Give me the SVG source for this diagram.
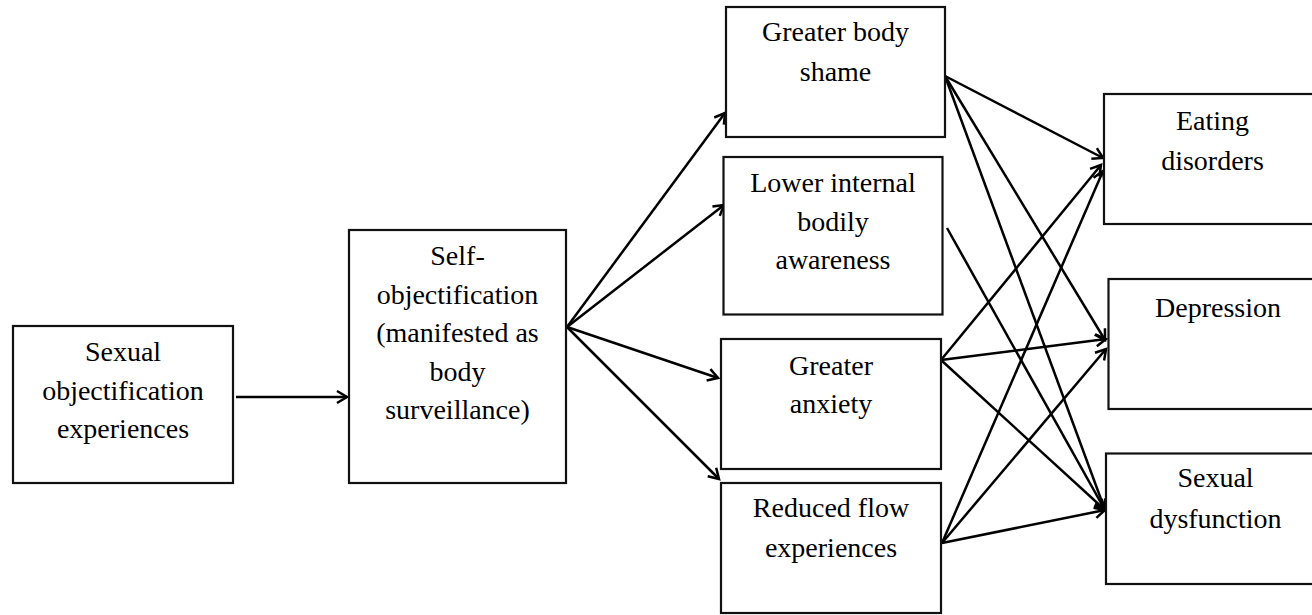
<svg xmlns="http://www.w3.org/2000/svg" width="1312" height="615" viewBox="0 0 1312 615">
<defs>
<style>
.box{fill:#fff;stroke:#111;stroke-width:2.2}
.lbl{font-family:"Liberation Serif","Times New Roman",serif;font-size:28px;fill:#000;text-anchor:middle}
.con{stroke:#000;stroke-width:2.5;fill:none;marker-end:url(#ah)}
</style>
<marker id="ah" markerUnits="userSpaceOnUse" markerWidth="16" markerHeight="16" viewBox="-13 -8 16 16" refX="0" refY="0" orient="auto">
<path d="M-10,-6 L0,0 L-10,6" fill="none" stroke="#000" stroke-width="2.5" stroke-linejoin="miter"/>
</marker>
</defs>
<rect width="1312" height="615" fill="#fff"/>
<g id="connectors">
<line class="con" x1="236" y1="397" x2="347" y2="397"/>
<line class="con" x1="567" y1="327" x2="725" y2="113"/>
<line class="con" x1="567" y1="327" x2="724" y2="205"/>
<line class="con" x1="567" y1="327" x2="718" y2="378"/>
<line class="con" x1="567" y1="327" x2="719" y2="479"/>
<line class="con" x1="945" y1="76" x2="1103" y2="158"/>
<line class="con" x1="945" y1="76" x2="1105" y2="340"/>
<line class="con" x1="945" y1="76" x2="1105" y2="510"/>
<line class="con" x1="947" y1="228" x2="1105" y2="510"/>
<line class="con" x1="941" y1="360" x2="1101" y2="165"/>
<line class="con" x1="941" y1="360" x2="1106" y2="339"/>
<line class="con" x1="941" y1="360" x2="1105" y2="510"/>
<line class="con" x1="942" y1="543" x2="1103" y2="171"/>
<line class="con" x1="942" y1="543" x2="1106" y2="349"/>
<line class="con" x1="942" y1="543" x2="1105" y2="510"/>
</g>
<g id="sexual-objectification">
<rect class="box" x="13" y="326" width="220" height="157"/>
<text class="lbl" x="123" y="361">Sexual</text>
<text class="lbl" x="123" y="399.5">objectification</text>
<text class="lbl" x="123" y="438">experiences</text>
</g>
<g id="self-objectification">
<rect class="box" x="349" y="230" width="217" height="253"/>
<text class="lbl" x="457.5" y="265">Self-</text>
<text class="lbl" x="457.5" y="303.5">objectification</text>
<text class="lbl" x="457.5" y="342">(manifested as</text>
<text class="lbl" x="457.5" y="380.5">body</text>
<text class="lbl" x="457.5" y="419">surveillance)</text>
</g>
<g id="body-shame">
<rect class="box" x="726" y="7" width="219" height="130"/>
<text class="lbl" x="835.5" y="41">Greater body</text>
<text class="lbl" x="835.5" y="81">shame</text>
</g>
<g id="bodily-awareness">
<rect class="box" x="723.5" y="157" width="219" height="157.5"/>
<text class="lbl" x="833" y="192">Lower internal</text>
<text class="lbl" x="833" y="230.5">bodily</text>
<text class="lbl" x="833" y="269">awareness</text>
</g>
<g id="anxiety">
<rect class="box" x="721" y="339" width="220" height="130"/>
<text class="lbl" x="831" y="375">Greater</text>
<text class="lbl" x="831" y="413">anxiety</text>
</g>
<g id="flow">
<rect class="box" x="721" y="483" width="220" height="130"/>
<text class="lbl" x="831" y="517">Reduced flow</text>
<text class="lbl" x="831" y="556.5">experiences</text>
</g>
<g id="eating-disorders">
<rect class="box" x="1104" y="94" width="220" height="130"/>
<text class="lbl" x="1212.5" y="129.5">Eating</text>
<text class="lbl" x="1212.5" y="169.5">disorders</text>
</g>
<g id="depression">
<rect class="box" x="1108.5" y="279" width="220" height="130"/>
<text class="lbl" x="1218" y="317">Depression</text>
</g>
<g id="sexual-dysfunction">
<rect class="box" x="1106" y="453.5" width="220" height="130.5"/>
<text class="lbl" x="1215.5" y="486.5">Sexual</text>
<text class="lbl" x="1215.5" y="528">dysfunction</text>
</g>
</svg>
